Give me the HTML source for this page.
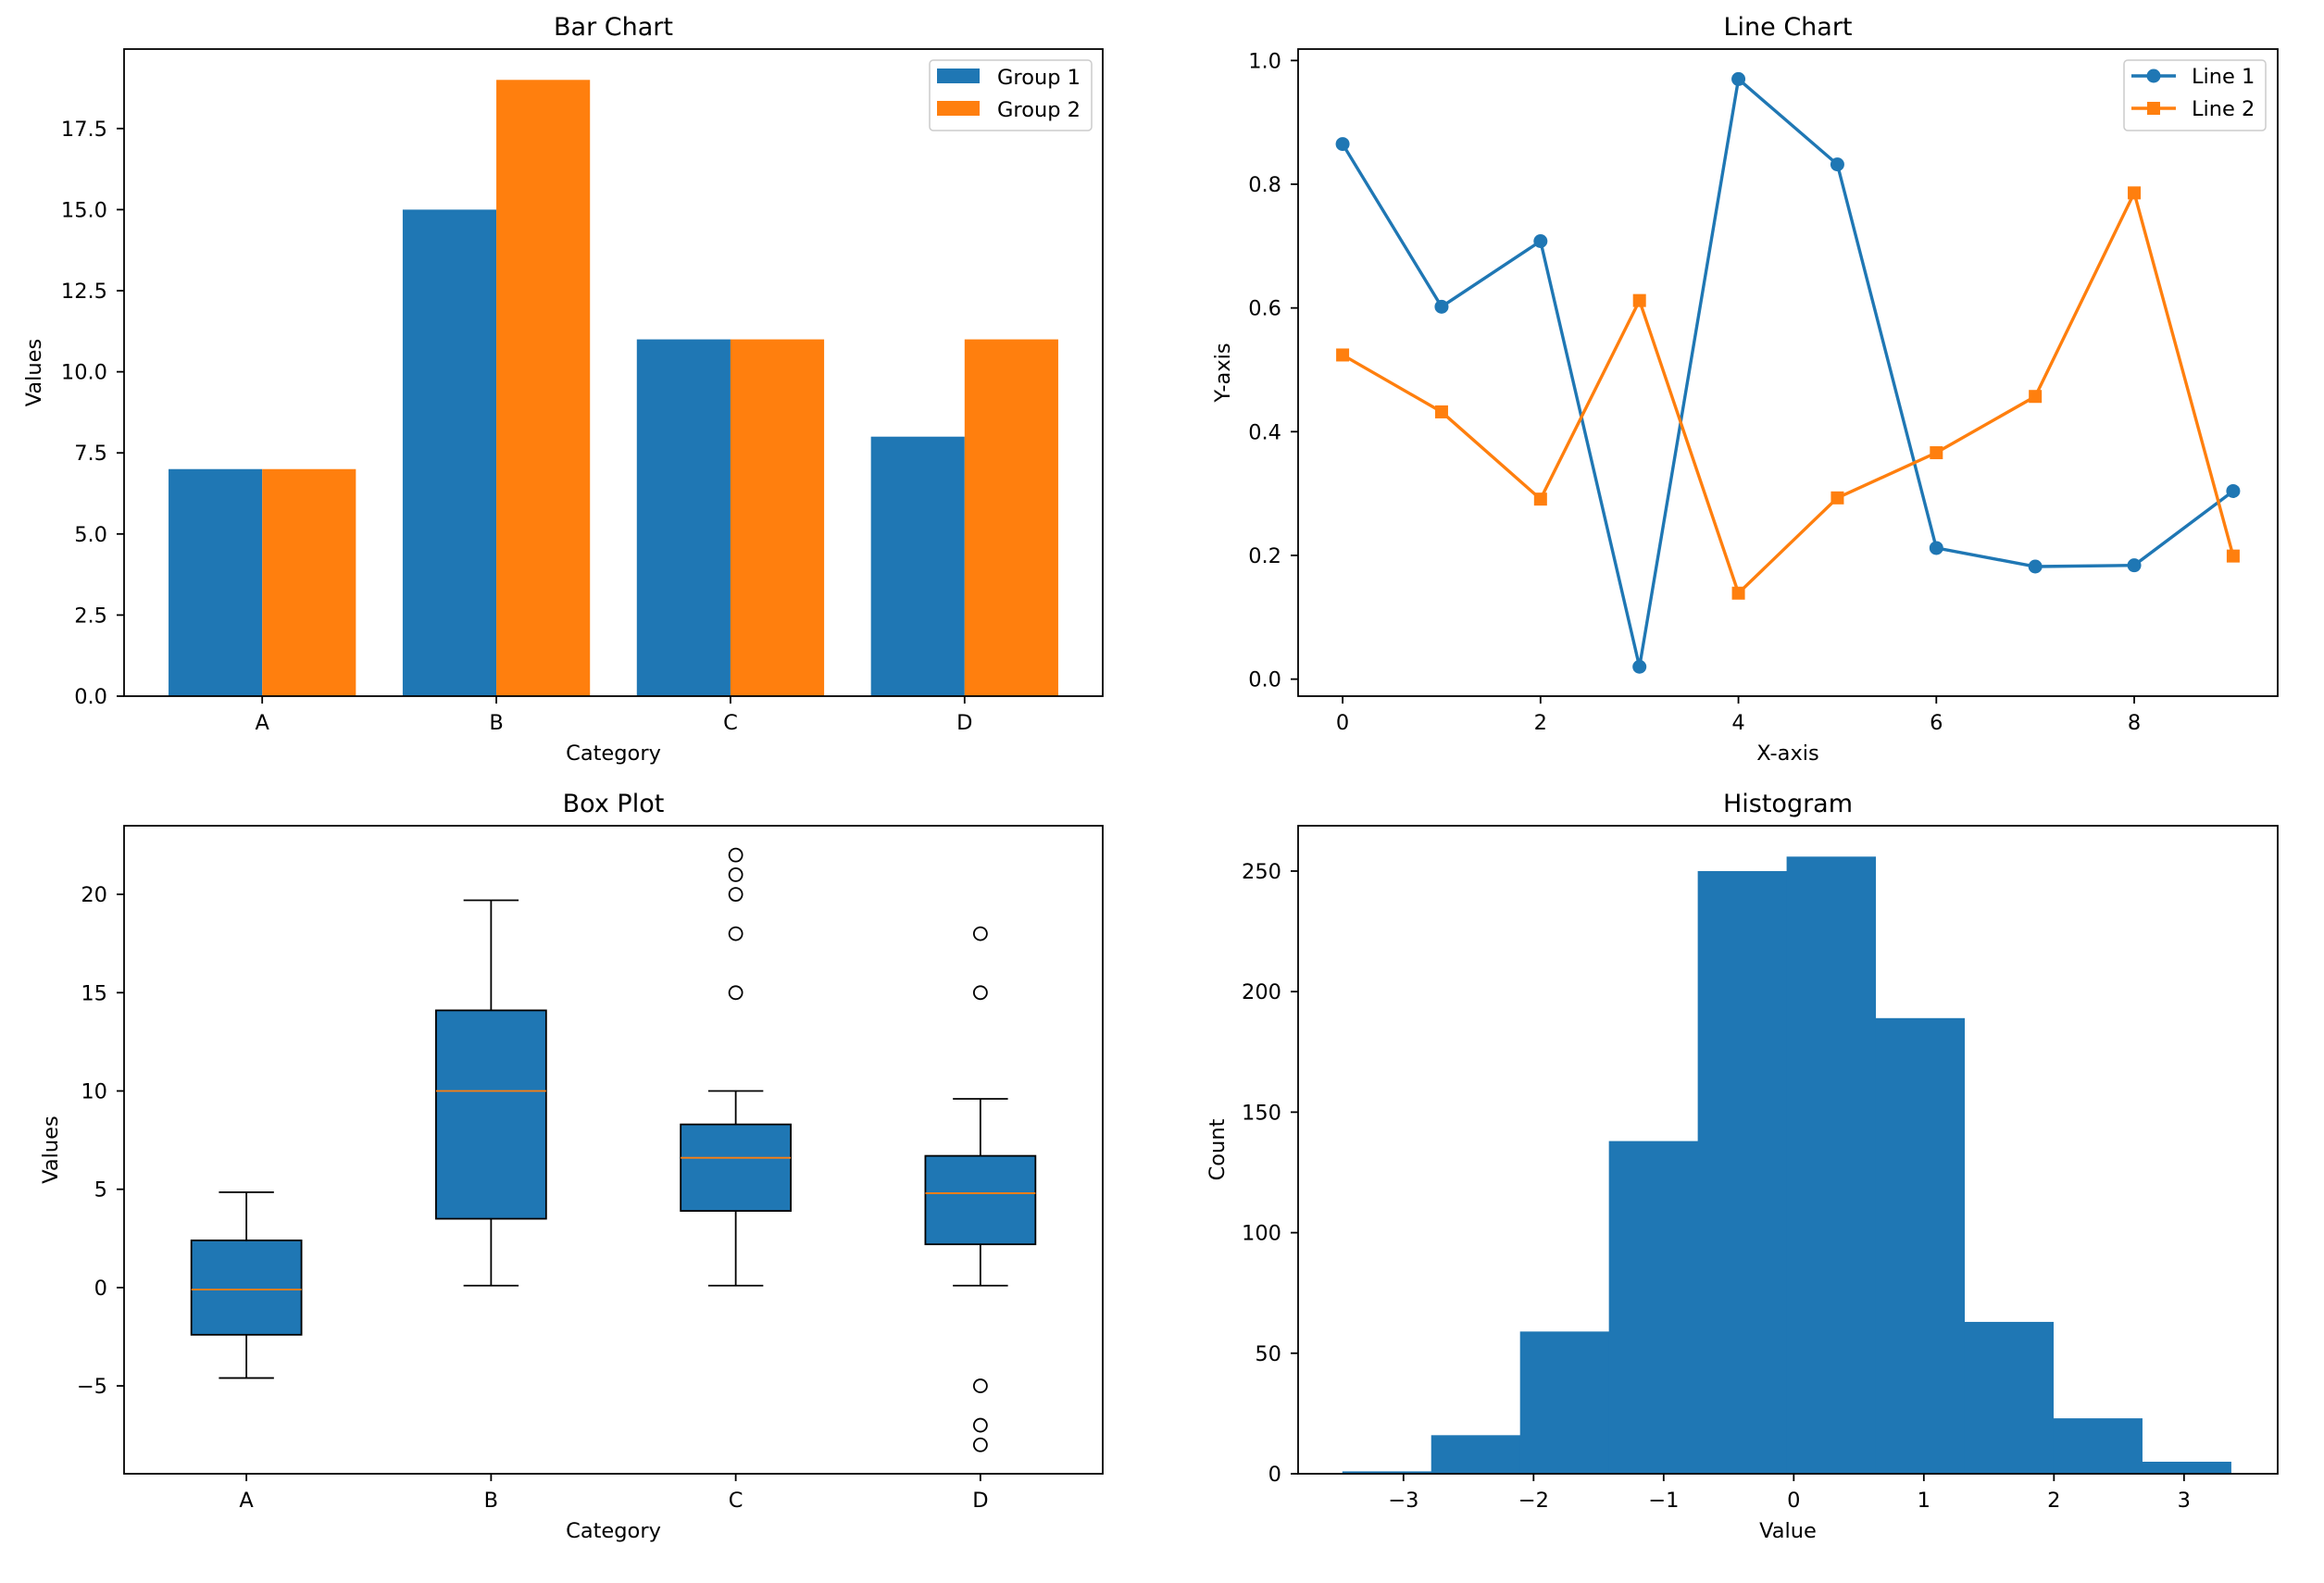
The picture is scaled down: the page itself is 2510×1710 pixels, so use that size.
<!DOCTYPE html>
<html><head><meta charset="utf-8"><style>
html,body{margin:0;padding:0;background:#fff}
svg{display:block;font-family:"DejaVu Sans","Liberation Sans",sans-serif}
</style></head><body>
<svg id="fig" width="2510" height="1710" viewBox="0 0 2510 1710" xmlns="http://www.w3.org/2000/svg"></svg>
<script>
// ---- data ----
const barCategories = ["A","B","C","D"];
const barGroup1 = [7, 15, 11, 8];
const barGroup2 = [7, 19, 11, 11];
const barYTicks = [0, 2.5, 5, 7.5, 10, 12.5, 15, 17.5];
const barYTickLabels = ["0.0","2.5","5.0","7.5","10.0","12.5","15.0","17.5"];

const lineX = [0,1,2,3,4,5,6,7,8,9];
const line1 = [0.865,0.602,0.708,0.020,0.970,0.832,0.212,0.182,0.184,0.304];
const line2 = [0.524,0.432,0.291,0.612,0.139,0.293,0.366,0.457,0.786,0.199];
const lineXTicks = [0,2,4,6,8];
const lineYTicks = [0,0.2,0.4,0.6,0.8,1.0];
const lineYTickLabels = ["0.0","0.2","0.4","0.6","0.8","1.0"];

const boxCategories = ["A","B","C","D"];
const boxQ1 = [-2.4, 3.5, 3.9, 2.2];
const boxMedian = [-0.1, 10.0, 6.6, 4.8];
const boxQ3 = [2.4, 14.1, 8.3, 6.7];
const boxWhiskLo = [-4.6, 0.1, 0.1, 0.1];
const boxWhiskHi = [4.85, 19.7, 10.0, 9.6];
const boxOutliers = [[], [], [15,18,20,21,22], [18,15,-5,-7,-8]];
const boxYTicks = [-5,0,5,10,15,20];
const boxYTickLabels = ["\u22125","0","5","10","15","20"];

const histEdges = [-3.47,-2.787,-2.104,-1.421,-0.738,-0.055,0.628,1.311,1.994,2.677,3.36];
const histCounts = [1,16,59,138,250,256,189,63,23,5];
const histXTicks = [-3,-2,-1,0,1,2,3];
const histXTickLabels = ["\u22123","\u22122","\u22121","0","1","2","3"];
const histYTicks = [0,50,100,150,200,250];

// ---- helpers ----
const NS = "http://www.w3.org/2000/svg";
const fig = document.getElementById("fig");
const BLUE = "#1f77b4", ORANGE = "#ff7f0e";
const TF = 22.5, TITLEF = 27;
function mk(tag, attrs, parent){
  const e = document.createElementNS(NS, tag);
  for (const k in attrs) e.setAttribute(k, attrs[k]);
  (parent||fig).appendChild(e);
  return e;
}
function txt(s, x, y, size, anchor, parent, rot){
  const t = mk("text", {x:x, y:y, "font-size":size, "text-anchor":anchor||"middle", fill:"#000"}, parent);
  if (rot) t.setAttribute("transform", `rotate(-90 ${x} ${y})`);
  t.textContent = s;
  return t;
}
function axes(name, L, T, R, B, xmin, xmax, ymin, ymax){
  const g = mk("g", {});
  
  
  const sx = v => L + (v - xmin) / (xmax - xmin) * (R - L);
  const sy = v => B - (v - ymin) / (ymax - ymin) * (B - T);
  return {g, sx, sy, L, T, R, B};
}
function frame(a){
  const f = mk("rect", {x:a.L, y:a.T, width:a.R-a.L, height:a.B-a.T, fill:"none", stroke:"#000", "stroke-width":1.8}, a.g);
  
  
}
function xticks(a, vals, labels){
  vals.forEach((v,i)=>{
    const x = a.sx(v);
    mk("line", {x1:x, x2:x, y1:a.B, y2:a.B+8, stroke:"#000", "stroke-width":1.8}, a.g);
    const t = txt(labels[i], x, a.B+36, TF, "middle", a.g);
    
    
  });
}
function yticks(a, vals, labels){
  vals.forEach((v,i)=>{
    const y = a.sy(v);
    mk("line", {x1:a.L-8, x2:a.L, y1:y, y2:y, stroke:"#000", "stroke-width":1.8}, a.g);
    const t = txt(labels[i], a.L-18, y+8, TF, "end", a.g);
    
    
  });
}
function labels(a, title, xl, yl, ylx){
  const t = txt(title, (a.L+a.R)/2, a.T-15, TITLEF, "middle", a.g);
  
  
  const x = txt(xl, (a.L+a.R)/2, a.B+69, TF, "middle", a.g);
  
  
  const y = txt(yl, ylx, (a.T+a.B)/2, TF, "middle", a.g, true);
  
  
}

// ---- Bar chart ----
(function(){
  const a = axes("bar-chart", 134, 53, 1191, 752, -0.59, 3.59, 0, 19.95);
  const w = 0.4;
  barCategories.forEach((c,i)=>{
    const r1 = mk("rect", {x:a.sx(i-w), y:a.sy(barGroup1[i]), width:a.sx(i)-a.sx(i-w), height:a.sy(0)-a.sy(barGroup1[i]), fill:BLUE}, a.g);
    
    
    const r2 = mk("rect", {x:a.sx(i), y:a.sy(barGroup2[i]), width:a.sx(i+w)-a.sx(i), height:a.sy(0)-a.sy(barGroup2[i]), fill:ORANGE}, a.g);
    
    
  });
  frame(a);
  xticks(a, barCategories.map((c,i)=>i), barCategories);
  yticks(a, barYTicks, barYTickLabels);
  labels(a, "Bar Chart", "Category", "Values", 44);
  const lg = mk("g", {}, a.g);
  
  
  mk("rect", {x:1004, y:65, width:175, height:76, rx:4, fill:"#fff", "fill-opacity":0.8, stroke:"#ccc", "stroke-width":1.5}, lg);
  mk("rect", {x:1012, y:74, width:46, height:16, fill:BLUE}, lg);
  mk("rect", {x:1012, y:109, width:46, height:16, fill:ORANGE}, lg);
  const e1 = txt("Group 1", 1077, 91, TF, "start", lg);
  
  
  const e2 = txt("Group 2", 1077, 126, TF, "start", lg);
  
  
})();

// ---- Line chart ----
(function(){
  const a = axes("line-chart", 1402, 53, 2460, 752, -0.45, 9.45, -0.0275, 1.0185);
  frame(a);
  xticks(a, lineXTicks, lineXTicks.map(String));
  yticks(a, lineYTicks, lineYTickLabels);
  labels(a, "Line Chart", "X-axis", "Y-axis", 1328);
  const p1 = mk("polyline", {points: lineX.map((x,i)=>a.sx(x)+","+a.sy(line1[i])).join(" "), fill:"none", stroke:BLUE, "stroke-width":3.4}, a.g);
  
  
  lineX.forEach((x,i)=>{
    const c = mk("circle", {cx:a.sx(x), cy:a.sy(line1[i]), r:7.5, fill:BLUE}, a.g);
    
    
  });
  const p2 = mk("polyline", {points: lineX.map((x,i)=>a.sx(x)+","+a.sy(line2[i])).join(" "), fill:"none", stroke:ORANGE, "stroke-width":3.4}, a.g);
  
  
  lineX.forEach((x,i)=>{
    const s = mk("rect", {x:a.sx(x)-7, y:a.sy(line2[i])-7, width:14, height:14, fill:ORANGE}, a.g);
    
    
  });
  const lg = mk("g", {}, a.g);
  
  
  mk("rect", {x:2294, y:65, width:153, height:76, rx:4, fill:"#fff", "fill-opacity":0.8, stroke:"#ccc", "stroke-width":1.5}, lg);
  mk("line", {x1:2302, x2:2350, y1:82, y2:82, stroke:BLUE, "stroke-width":3.4}, lg);
  mk("circle", {cx:2326, cy:82, r:7.5, fill:BLUE}, lg);
  mk("line", {x1:2302, x2:2350, y1:117, y2:117, stroke:ORANGE, "stroke-width":3.4}, lg);
  mk("rect", {x:2319, y:110, width:14, height:14, fill:ORANGE}, lg);
  const e1 = txt("Line 1", 2367, 90, TF, "start", lg);
  
  
  const e2 = txt("Line 2", 2367, 125, TF, "start", lg);
  
  
})();

// ---- Box plot ----
(function(){
  const a = axes("box-plot", 134, 892, 1191, 1592, 0.5, 4.5, -9.47, 23.49);
  const bw = 0.45, cw = 0.225;
  boxCategories.forEach((c,i)=>{
    const p = i+1;
    const g = mk("g", {}, a.g);
    
    
    const st = {stroke:"#000", "stroke-width":1.8};
    mk("line", Object.assign({x1:a.sx(p), x2:a.sx(p), y1:a.sy(boxQ1[i]), y2:a.sy(boxWhiskLo[i])}, st), g);
    mk("line", Object.assign({x1:a.sx(p), x2:a.sx(p), y1:a.sy(boxQ3[i]), y2:a.sy(boxWhiskHi[i])}, st), g);
    mk("line", Object.assign({x1:a.sx(p-cw/2), x2:a.sx(p+cw/2), y1:a.sy(boxWhiskLo[i]), y2:a.sy(boxWhiskLo[i])}, st), g);
    mk("line", Object.assign({x1:a.sx(p-cw/2), x2:a.sx(p+cw/2), y1:a.sy(boxWhiskHi[i]), y2:a.sy(boxWhiskHi[i])}, st), g);
    mk("rect", {x:a.sx(p-bw/2), y:a.sy(boxQ3[i]), width:a.sx(p+bw/2)-a.sx(p-bw/2), height:a.sy(boxQ1[i])-a.sy(boxQ3[i]), fill:BLUE, stroke:"#000", "stroke-width":1.8}, g);
    mk("line", {x1:a.sx(p-bw/2), x2:a.sx(p+bw/2), y1:a.sy(boxMedian[i]), y2:a.sy(boxMedian[i]), stroke:ORANGE, "stroke-width":1.8}, g);
    boxOutliers[i].forEach(v=>{
      const o = mk("circle", {cx:a.sx(p), cy:a.sy(v), r:7, fill:"none", stroke:"#000", "stroke-width":1.8}, g);
      
      
    });
  });
  frame(a);
  xticks(a, boxCategories.map((c,i)=>i+1), boxCategories);
  yticks(a, boxYTicks, boxYTickLabels);
  labels(a, "Box Plot", "Category", "Values", 62);
})();

// ---- Histogram ----
(function(){
  const a = axes("histogram", 1402, 892, 2460, 1592, -3.81, 3.72, 0, 268.8);
  histCounts.forEach((n,i)=>{
    const r = mk("rect", {x:a.sx(histEdges[i]), y:a.sy(n), width:a.sx(histEdges[i+1])-a.sx(histEdges[i])+0.5, height:a.sy(0)-a.sy(n), fill:BLUE}, a.g);
    
    
  });
  frame(a);
  xticks(a, histXTicks, histXTickLabels);
  yticks(a, histYTicks, histYTicks.map(String));
  labels(a, "Histogram", "Value", "Count", 1322);
})();
</script>
</body></html>
